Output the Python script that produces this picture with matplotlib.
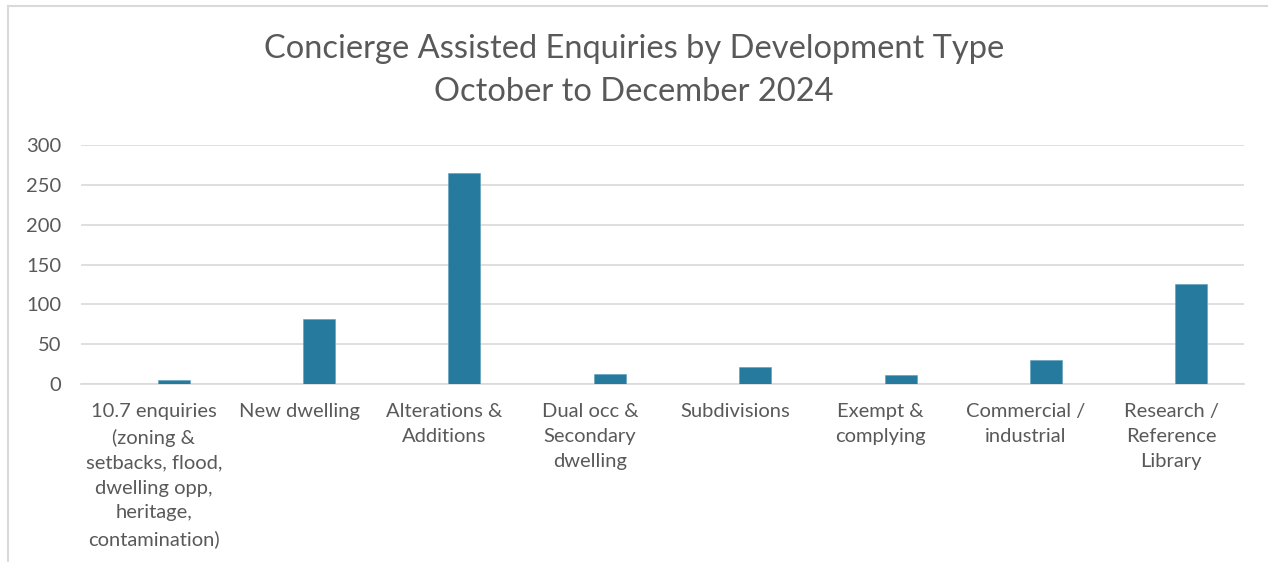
import numpy as np
import matplotlib.pyplot as plt
from matplotlib.lines import Line2D

# data
categories = [
    "10.7 enquiries\n(zoning &\nsetbacks, flood,\ndwelling opp,\nheritage,\ncontamination)",
    "New dwelling",
    "Alterations &\nAdditions",
    "Dual occ &\nSecondary\ndwelling",
    "Subdivisions",
    "Exempt &\ncomplying",
    "Commercial /\nindustrial",
    "Research /\nReference\nLibrary",
]
enquiries = [5, 82, 265, 13, 21, 11, 30, 126]
y_ticks = [0, 50, 100, 150, 200, 250, 300]

title = "Concierge Assisted Enquiries by Development Type\nOctober to December 2024"

text_col = "#595959"
grid_col = "#d9d9d9"
bar_col = "#267a9e"

plt.rcParams['font.family'] = ['Lato', 'DejaVu Sans']

W, H = 1268, 562
fig = plt.figure(figsize=(W / 100, H / 100), dpi=100)
ax = fig.add_axes([81 / W, (H - 384) / H, (1244 - 81) / W, (384 - 145) / H])

x = np.arange(len(categories))
# bars sit right of the category centre (empty first series in the source)
ax.bar(x + 0.1375, enquiries, width=0.22, color=bar_col, edgecolor="#5a9cbb", linewidth=0.4, zorder=3)

ax.set_xlim(-0.5, len(categories) - 0.5)
ax.set_ylim(0, 300)
ax.set_yticks(y_ticks)
ax.set_xticks(x)
ax.set_xticklabels(categories, fontsize=14.5, color=text_col, linespacing=1.56, va="top")
ax.tick_params(axis="y", length=0, labelsize=14.5, labelcolor=text_col, pad=14)
ax.tick_params(axis="x", length=0, pad=14)
ax.grid(axis="y", color=grid_col, linewidth=1.2, zorder=0)
for s in ["top", "right", "left"]:
    ax.spines[s].set_visible(False)
ax.spines["bottom"].set_color(grid_col)
ax.spines["bottom"].set_linewidth(1.2)

fig.text(0.5, (H - 70.5) / H, title, ha="center", va="center", fontsize=23.5,
         color=text_col, linespacing=1.54)

# chart frame (left and top edges visible in the crop)
fig.add_artist(Line2D([7.5 / W, 7.5 / W], [0, (H - 5.5) / H], color=grid_col, linewidth=1.5, transform=fig.transFigure))
fig.add_artist(Line2D([7.5 / W, 1], [(H - 5.5) / H, (H - 5.5) / H], color=grid_col, linewidth=1.5, transform=fig.transFigure))

fig.savefig("out.png", dpi=100)
